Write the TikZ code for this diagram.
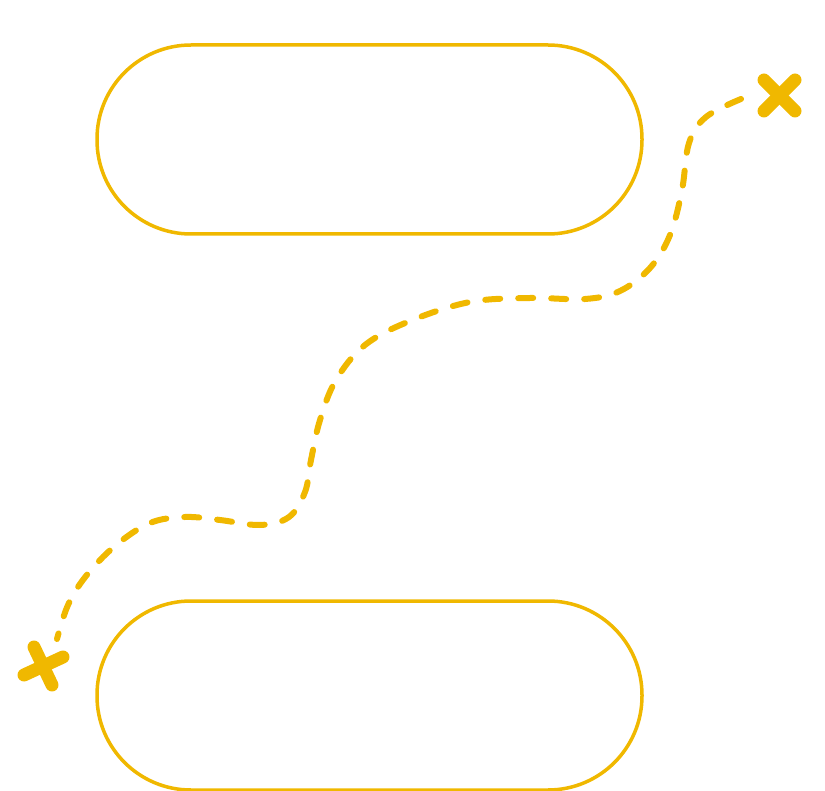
\documentclass[tikz,border=0pt]{standalone}
\usepackage{tikz}
\usetikzlibrary{calc}
\definecolor{trailcolor}{HTML}{F0B800}

\begin{document}
\begin{tikzpicture}[x=1pt,y=-1pt,
 pill/.style={draw=trailcolor,line width=3.5pt,rounded corners=94pt,
              minimum width=545pt,minimum height=189pt,inner sep=0pt},
 trail/.style={draw=trailcolor,line width=6pt,line cap=round,
               dash pattern=on 15pt off 18pt},
 cross/.style={draw=trailcolor,line width=13pt,line cap=round}]
 \useasboundingbox (0,0) rectangle (825,791);
 \node[pill] (upper) at (369.5,139.5) {};
 \node[pill] (lower) at (369.5,695.5) {};
 % end marks
 \coordinate (goal) at (779.5,95.5);
 \coordinate (start) at (43,666);
 \draw[cross] ($(goal)+(-15.5,-15.5)$) -- ($(goal)+(15.5,15.5)$);
 \draw[cross] ($(goal)+(-15.5,15.5)$) -- ($(goal)+(15.5,-15.5)$);
 \draw[cross] ($(start)+(-9,-19)$) -- ($(start)+(9,19)$);
 \draw[cross] ($(start)+(-19,9)$) -- ($(start)+(20,-9)$);
 \coordinate (goalin) at (741,99);
 \coordinate (startin) at (57,639);
 \draw[trail] plot[smooth,tension=0.6] coordinates {(goalin) (706,117) (689,143)
   (682,190) (670,235) (650,268) (620,291) (585,299) (530,298) (470,302)
   (410,321) (365,345) (336,380) (320,420) (311,460) (305,492) (289,517)
   (260,525) (220,520) (185,517) (150,523) (115,546) (86,576) (68,605) (startin)};
\end{tikzpicture}
\end{document}
